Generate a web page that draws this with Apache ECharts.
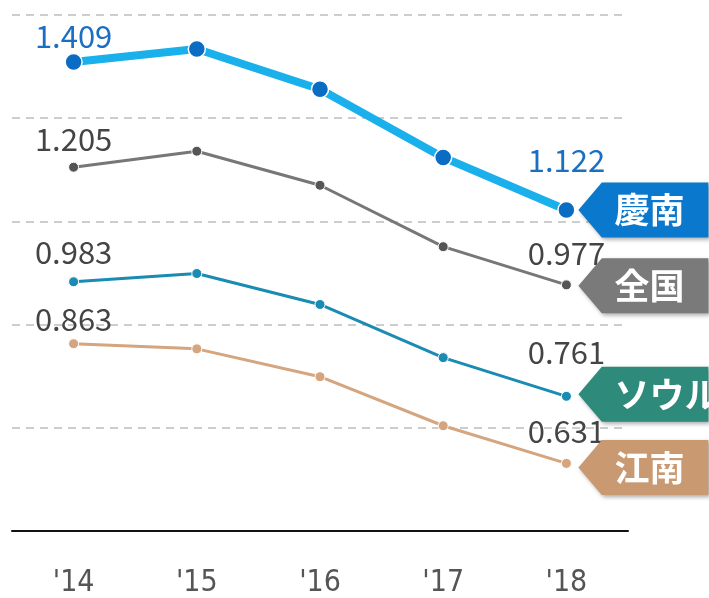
<!DOCTYPE html>
<html>
<head>
<meta charset="utf-8">
<script src="https://cdn.jsdelivr.net/npm/echarts@6/dist/echarts.min.js"></script>
<style>
  html, body { margin: 0; padding: 0; background: #fff; }
  #chart { width: 709px; height: 598px; }
</style>
</head>
<body>
<div id="chart"></div>
<script>
var years = ["'14", "'15", "'16", "'17", "'18"];

var gyeongnam = [1.409, 1.434, 1.356, 1.224, 1.122];
var national  = [1.205, 1.236, 1.170, 1.051, 0.977];
var seoul     = [0.983, 0.999, 0.939, 0.836, 0.761];
var gangnam   = [0.863, 0.853, 0.799, 0.704, 0.631];

var seriesNames = ['慶南', '全国', 'ソウル', '江南'];

var numFont = "'Noto Sans CJK JP', 'Noto Sans', sans-serif";

// tag drawn as an arrow pointing left at the last point
var tagPath = 'path://M0,20 L18,0 L100,0 L100,40 L18,40 Z';
var tagFontSize = 35;

function makeData(values, labelColor, firstOffset, lastOffset) {
    return values.map(function (v, i) {
        var item = { value: v };
        if (i === 0 || i === values.length - 1) {
            item.label = {
                show: true,
                position: 'top',
                color: labelColor,
                fontSize: 31,
                fontWeight: 'normal',
                fontFamily: numFont,
                offset: [0, i === 0 ? firstOffset : lastOffset],
                formatter: function (p) { return p.value.toFixed(3); }
            };
        }
        return item;
    });
}

function makeTag(name, values, color, dy) {
    var last = values.length - 1;
    // text starts a little right of the tip, same left edge for every tag
    var textShift = name.length * tagFontSize / 2 - 29;
    return {
        silent: true,
        animation: false,
        data: [{
            coord: [last, values[last]],
            symbol: tagPath,
            symbolSize: [130, 55],
            symbolKeepAspect: false,
            symbolOffset: [77, dy],
            itemStyle: {
                color: color,
                shadowBlur: 4,
                shadowColor: 'rgba(0,0,0,0.35)',
                shadowOffsetX: 2,
                shadowOffsetY: 2
            },
            label: {
                show: true,
                position: 'inside',
                formatter: name,
                color: '#fff',
                fontSize: tagFontSize,
                fontWeight: 'bold',
                fontFamily: "'Noto Sans CJK JP', sans-serif",
                offset: [textShift, 0]
            }
        }]
    };
}

var chart = echarts.init(document.getElementById('chart'));

chart.setOption({
    animation: false,
    grid: { left: 12, right: 81, top: 15, bottom: 65 },
    xAxis: {
        type: 'category',
        data: years,
        boundaryGap: true,
        axisLine: { lineStyle: { color: '#111', width: 2 } },
        axisTick: { show: false },
        axisLabel: {
            color: '#555',
            fontSize: 30,
            fontFamily: "'DejaVu Sans Condensed', 'Noto Sans', sans-serif",
            margin: 37
        }
    },
    yAxis: {
        type: 'value',
        min: 0.5,
        max: 1.5,
        interval: 0.2,
        axisLine: { show: false },
        axisTick: { show: false },
        axisLabel: { show: false },
        splitLine: { lineStyle: { color: '#bdbdbd', width: 1.5, type: [8, 6] } }
    },
    series: [
        {
            name: seriesNames[3],
            type: 'line',
            data: makeData(gangnam, '#444', 2, -6),
            symbol: 'circle',
            symbolSize: 10,
            lineStyle: { color: '#d4a57e', width: 3 },
            itemStyle: { color: '#d4a57e', borderColor: '#fff', borderWidth: 1 },
            markPoint: makeTag(seriesNames[3], gangnam, '#c99a72', 4)
        },
        {
            name: seriesNames[2],
            type: 'line',
            data: makeData(seoul, '#444', -4, -18),
            symbol: 'circle',
            symbolSize: 10,
            lineStyle: { color: '#1a8bb3', width: 3 },
            itemStyle: { color: '#1a8bb3', borderColor: '#fff', borderWidth: 1 },
            markPoint: makeTag(seriesNames[2], seoul, '#2e8a7b', -2)
        },
        {
            name: seriesNames[1],
            type: 'line',
            data: makeData(national, '#444', -2, -6),
            symbol: 'circle',
            symbolSize: 10,
            lineStyle: { color: '#777', width: 3 },
            itemStyle: { color: '#555', borderColor: '#fff', borderWidth: 1 },
            markPoint: makeTag(seriesNames[1], national, '#7a7a7a', 1)
        },
        {
            name: seriesNames[0],
            type: 'line',
            data: makeData(gyeongnam, '#1a6fc2', 4, -20),
            symbol: 'circle',
            symbolSize: 17,
            lineStyle: { color: '#1ab0ec', width: 8 },
            itemStyle: { color: '#0b6cc4', borderColor: '#fff', borderWidth: 1.5 },
            markPoint: makeTag(seriesNames[0], gyeongnam, '#0a78cc', 0)
        }
    ]
});
</script>
</body>
</html>
